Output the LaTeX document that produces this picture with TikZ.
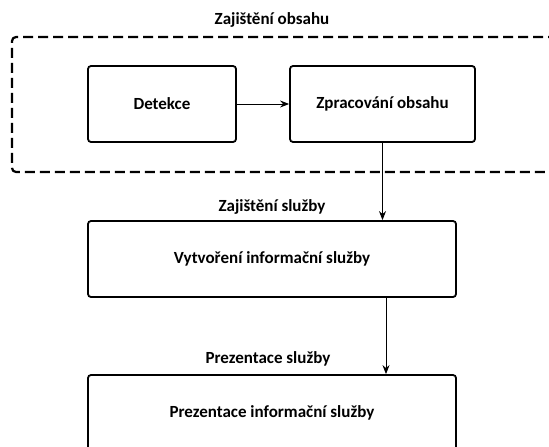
\documentclass[tikz,border=0pt]{standalone}
\usepackage{fontspec}
\setmainfont{Carlito}
\usepackage{tikz}
\usetikzlibrary{arrows.meta}
\tikzset{
  stepnode/.style = {draw=black, line width=1.8pt, rounded corners=3pt,
    align=center, inner sep=0pt, font=\fontsize{17}{20}\selectfont\bfseries},% krok procesu
  grpnode/.style = {draw=black, line width=2.2pt, rounded corners=4pt,
    dash pattern=on 10pt off 5pt, inner sep=0pt},% skupina krokov
  lblnode/.style = {inner sep=0pt, font=\fontsize{17}{20}\selectfont\bfseries}% nadpis
}
\begin{document}
\begin{tikzpicture}[x=1pt,y=-1pt,->,>={Stealth[length=9pt,width=7pt]},line width=0.9pt]
\useasboundingbox (0,0) rectangle (549,447);
\clip (0,0) rectangle (549,447);
\node [grpnode, minimum width=550pt, minimum height=135pt] (grp) at (287,104.5) {};
\node [lblnode] (l_obs) at (272,20) {Zajištění obsahu};
\node [stepnode, minimum width=148pt, minimum height=76pt] (det) at (162,104) {Detekce};
\node [stepnode, minimum width=185pt, minimum height=76pt] (zpr) at (382.5,104) {Zpracování obsahu};
\node [lblnode] (l_slu) at (272,207) {Zajištění služby};
\node [stepnode, minimum width=368pt, minimum height=76pt] (vyt) at (272,259) {Vytvoření informační služby};
\node [lblnode] (l_pre) at (268,359) {Prezentace služby};
\node [stepnode, minimum width=368pt, minimum height=76pt] (pre) at (272,413) {Prezentace informační služby};
\draw (det) -- (zpr);
\draw (zpr.south) -- (zpr.south |- vyt.north);
\draw ([xshift=114pt]vyt.south) -- ([xshift=114pt]pre.north);
\end{tikzpicture}
\end{document}
